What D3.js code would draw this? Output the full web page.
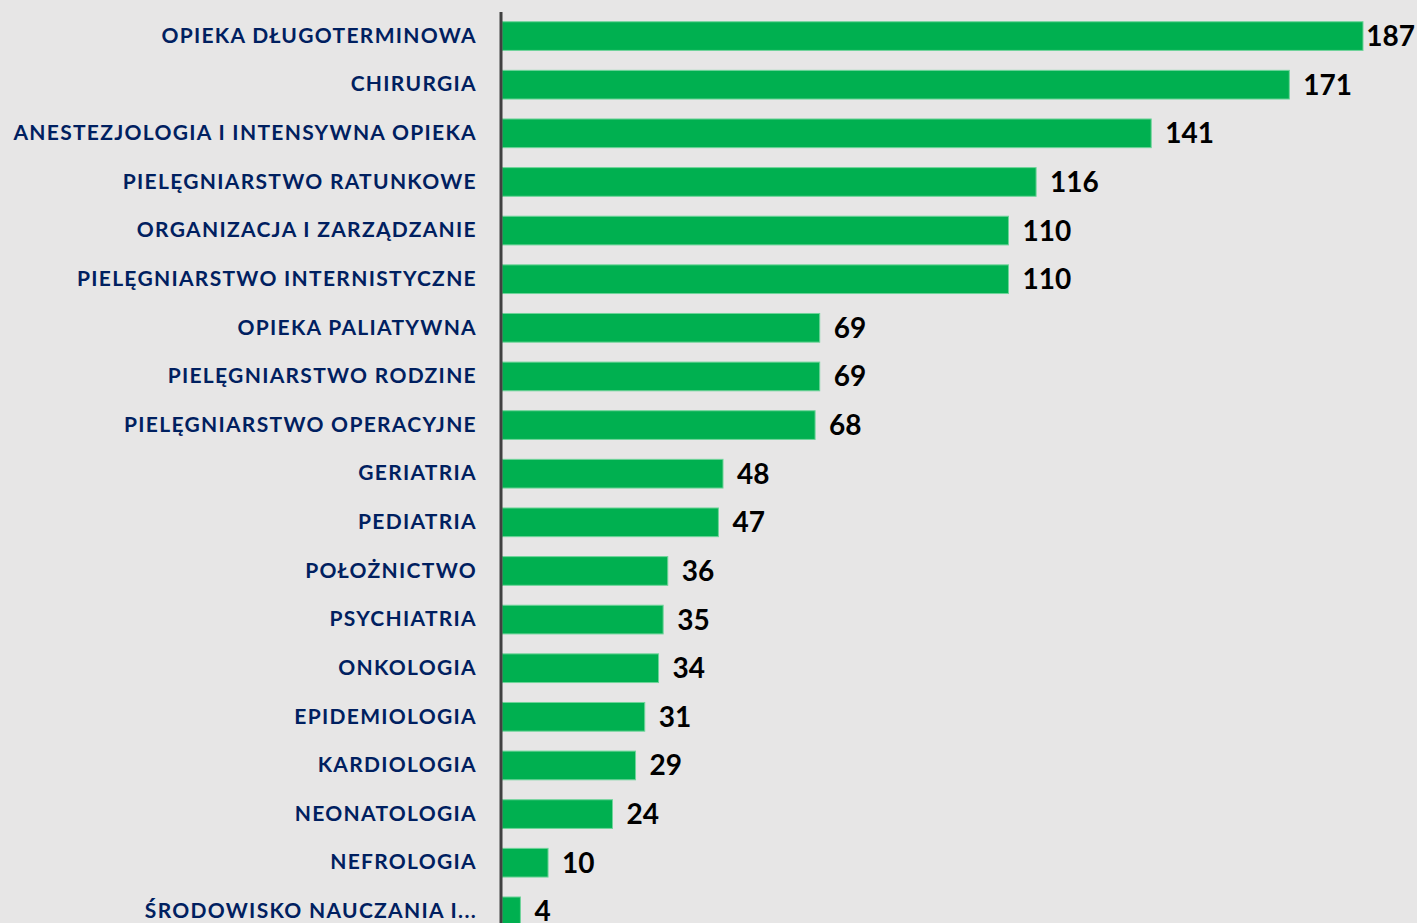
<!DOCTYPE html>
<html>
<head>
<meta charset="utf-8">
<script src="https://cdn.jsdelivr.net/npm/d3@7"></script>
<style>
  body { margin: 0; background: #e7e6e6; }
  svg { display: block; }
</style>
</head>
<body>
<div id="chart"></div>
<script>
// categories and counts, top to bottom
var categories = [
  "OPIEKA DŁUGOTERMINOWA",
  "CHIRURGIA",
  "ANESTEZJOLOGIA I INTENSYWNA OPIEKA",
  "PIELĘGNIARSTWO RATUNKOWE",
  "ORGANIZACJA I ZARZĄDZANIE",
  "PIELĘGNIARSTWO INTERNISTYCZNE",
  "OPIEKA PALIATYWNA",
  "PIELĘGNIARSTWO RODZINE",
  "PIELĘGNIARSTWO OPERACYJNE",
  "GERIATRIA",
  "PEDIATRIA",
  "POŁOŻNICTWO",
  "PSYCHIATRIA",
  "ONKOLOGIA",
  "EPIDEMIOLOGIA",
  "KARDIOLOGIA",
  "NEONATOLOGIA",
  "NEFROLOGIA",
  "ŚRODOWISKO NAUCZANIA I..."
];
var values = [187, 171, 141, 116, 110, 110, 69, 69, 68, 48, 47, 36, 35, 34, 31, 29, 24, 10, 4];

//Width and height
var w = 1417;
var h = 923;
var left = 502;

var svg = d3.select("#chart")
    .append("svg")
    .attr("width", w)
    .attr("height", h);

svg.append("rect")
  .attr("width", w)
  .attr("height", h)
  .attr("fill", "#e7e6e6");

var x = d3.scaleLinear()
  .domain([0, 187])
  .range([left, 1363]);

var y = d3.scaleBand()
  .domain(categories)
  .range([12, 12 + 48.6 * categories.length])
  .paddingInner(0.41)
  .paddingOuter(0.2);

// bars
svg.selectAll("rect.bar")
  .data(values)
  .enter()
  .append("rect")
  .attr("class", "bar")
  .attr("x", x(0))
  .attr("y", function(d, i) { return y(categories[i]); })
  .attr("width", function(d) { return x(d) - x(0); })
  .attr("height", y.bandwidth())
  .attr("fill", "#00b050")
  .attr("stroke", "#6fd49a")
  .attr("stroke-width", 1);

// category axis
var axis = svg.append("g")
  .attr("transform", "translate(" + (left - 1) + ",0)")
  .call(d3.axisLeft(y).tickSize(0).tickPadding(24));

axis.select(".domain")
  .attr("d", "M0,12V" + h)
  .attr("stroke", "#404040")
  .attr("stroke-width", 3);

axis.selectAll("text")
  .attr("fill", "#002060")
  .style("font-family", "Lato, sans-serif")
  .style("font-weight", "bold")
  .style("font-size", "21px")
  .style("letter-spacing", "1.3px");

// value labels
svg.selectAll("text.val")
  .data(values)
  .enter()
  .append("text")
  .attr("class", "val")
  .attr("y", function(d, i) { return y(categories[i]) + y.bandwidth() / 2 + 10; })
  .attr("fill", "#000")
  .style("font-family", "Lato, sans-serif")
  .style("font-weight", "bold")
  .style("font-size", "28px")
  .text(function(d) { return d; })
  .attr("x", function(d) {
    var tw = this.getComputedTextLength();
    return Math.min(x(d) + 14, w - tw - 2);
  });
</script>
</body>
</html>
